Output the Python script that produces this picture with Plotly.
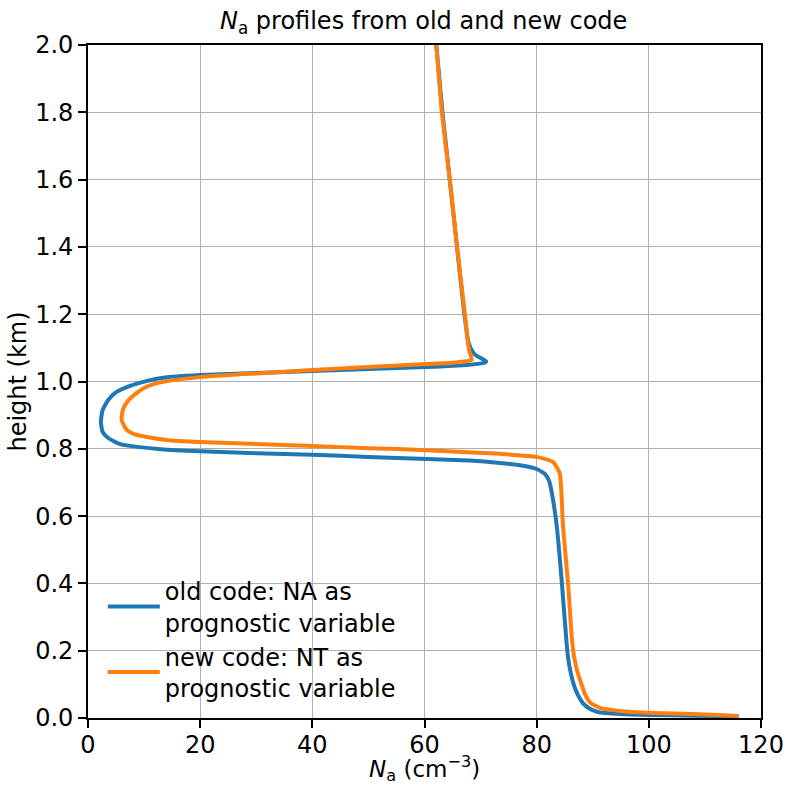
import plotly.graph_objects as go

# ---- data ----
old_na = [62.1, 63.2, 64.5, 65.8, 67.1, 67.6, 67.8, 68.2, 69.0, 70.3, 71.0, 70.6, 68.0, 60.4, 50.0, 40.0, 30.0,
          20.0, 13.4, 10.4, 7.5, 5.1, 3.6, 2.6, 2.3, 2.6, 3.6, 5.7, 9.2, 13.0, 20.0, 30.0, 40.0, 50.0,
          60.4, 68.0, 73.4, 77.0, 80.0, 81.5, 82.2, 82.7, 83.6, 84.5, 85.3, 85.6, 86.0, 86.6, 87.3, 88.2,
          89.4, 90.9, 95.0, 100.7, 108.0, 116.0]
old_h = [2.0, 1.8, 1.6, 1.4, 1.2, 1.14, 1.12, 1.10, 1.08, 1.067, 1.060, 1.055, 1.050, 1.043, 1.037, 1.031, 1.025,
         1.019, 1.011, 1.001, 0.987, 0.969, 0.945, 0.915, 0.880, 0.850, 0.832, 0.814, 0.805, 0.799, 0.793, 0.787, 0.782, 0.776,
         0.770, 0.765, 0.758, 0.751, 0.740, 0.725, 0.705, 0.669, 0.568, 0.40, 0.23, 0.18, 0.14, 0.10, 0.07, 0.045,
         0.028, 0.018, 0.012, 0.009, 0.007, 0.005]

new_na = [62.1, 63.1, 64.5, 65.8, 67.2, 67.7, 68.0, 68.4, 65.0, 60.4, 50.0, 40.0, 30.0, 20.0, 13.4, 10.5,
          8.7, 7.0, 6.2, 6.0, 6.9, 8.5, 10.5, 14.0, 20.0, 30.0, 40.0, 50.0, 60.4, 73.4, 80.0, 82.9,
          84.1, 84.7, 85.6, 86.3, 86.7, 87.3, 88.0, 88.7, 89.6, 91.3, 94.8, 100.7, 107.9, 116.0]
new_h = [2.0, 1.8, 1.6, 1.4, 1.2, 1.12, 1.09, 1.064, 1.056, 1.052, 1.043, 1.034, 1.024, 1.013, 0.999, 0.985,
         0.966, 0.940, 0.915, 0.886, 0.856, 0.842, 0.835, 0.826, 0.820, 0.814, 0.808, 0.802, 0.796, 0.785, 0.776, 0.761,
         0.728, 0.568, 0.40, 0.232, 0.18, 0.135, 0.100, 0.068, 0.045, 0.030, 0.021, 0.015, 0.012, 0.006]

series_names = ["old code: NA as<br>prognostic variable", "new code: NT as<br>prognostic variable"]
series_colors = ["#1f77b4", "#ff7f0e"]

x_ticks = [0, 20, 40, 60, 80, 100, 120]
y_ticks = [0.0, 0.2, 0.4, 0.6, 0.8, 1.0, 1.2, 1.4, 1.6, 1.8, 2.0]

FONT = "DejaVu Sans"
FS = 24

fig = go.Figure()
for xs, ys, name, col in [(old_na, old_h, series_names[0], series_colors[0]),
                          (new_na, new_h, series_names[1], series_colors[1])]:
    fig.add_trace(go.Scatter(x=xs, y=ys, mode="lines", name=name,
                             line=dict(color=col, width=4, shape="spline", smoothing=0.5)))

axis_common = dict(showline=True, mirror=True, linecolor="black", linewidth=1.8,
                   ticks="outside", ticklen=8, tickwidth=1.8, tickcolor="black",
                   showgrid=True, gridcolor="#b0b0b0", gridwidth=1.2, zeroline=False,
                   automargin=False,
                   tickfont=dict(family=FONT, size=FS, color="black"))

fig.update_layout(
    width=786, height=787,
    margin=dict(l=88, r=25, t=45, b=69),
    paper_bgcolor="white", plot_bgcolor="white",
    font=dict(family=FONT, color="black"),
    title=dict(text="<i>N</i><sub>a</sub> profiles from old and new code",
               x=0.539, xanchor="center", y=1 - 21 / 787, yanchor="middle", yref="container",
               font=dict(family=FONT, size=FS, color="black")),
    xaxis=dict(range=[0, 120], tickvals=x_ticks, ticktext=[str(v) for v in x_ticks],
               ticklabelstandoff=-4, **axis_common),
    yaxis=dict(range=[0, 2], tickvals=y_ticks, ticktext=[f"{v:.1f}" for v in y_ticks],
               title=dict(text="height (km)", standoff=2,
                          font=dict(family=FONT, size=FS, color="black")),
               **axis_common),
    legend=dict(x=0.022, y=0.012, xanchor="left", yanchor="bottom",
                bgcolor="rgba(0,0,0,0)", borderwidth=0,
                font=dict(family=FONT, size=FS, color="black"),
                itemwidth=52, tracegroupgap=0),
    showlegend=True,
    annotations=[dict(text="<i>N</i><sub>a</sub> (cm<sup>−3</sup>)", xref="paper", yref="paper",
                      x=0.5, y=-69 / 673, xanchor="center", yanchor="bottom", showarrow=False,
                      font=dict(family=FONT, size=23, color="black"))],
)

fig.write_html("out.html")
